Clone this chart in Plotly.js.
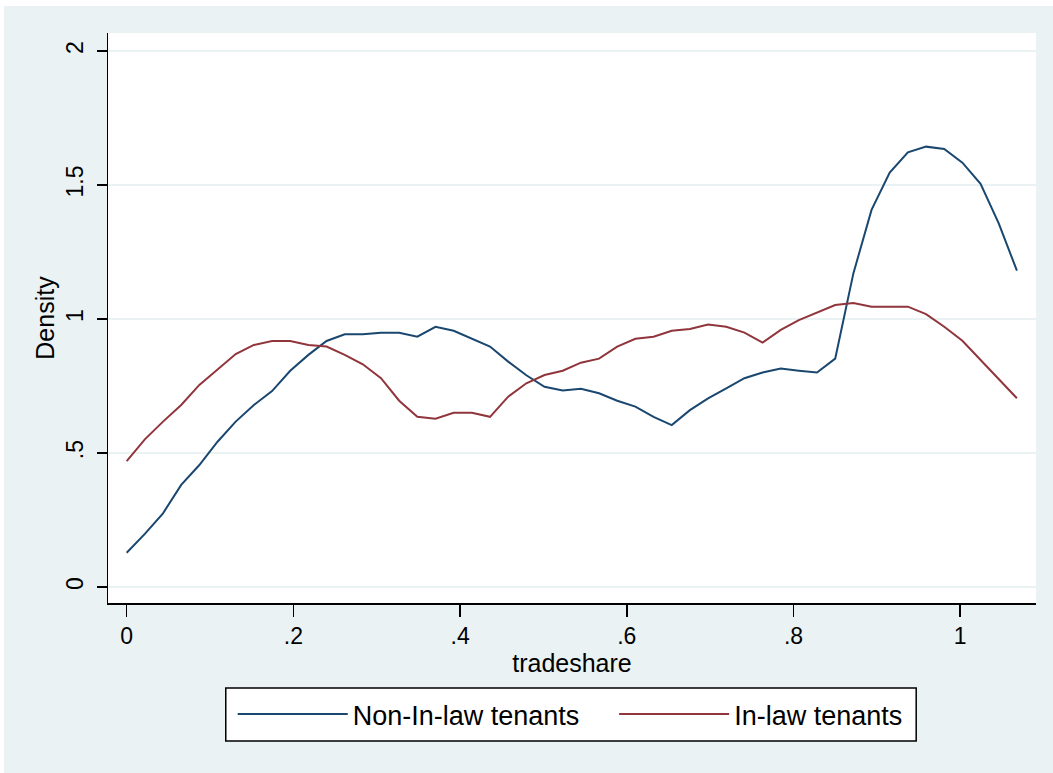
<!DOCTYPE html>
<html>
<head>
<meta charset="utf-8">
<script src="https://cdn.plot.ly/plotly-3.0.1.min.js"></script>
<style>
  html, body { margin: 0; padding: 0; background: #ffffff; }
  #chart { position: absolute; left: 4px; top: 6px; width: 1049px; height: 767px; }
</style>
</head>
<body>
<div id="chart"></div>
<script>
// Evaluation grid for the kernel densities (50 points, 0 .. ~1.068)
const nPoints = 50;
const xMax = 1.068;
const tradeshare = [];
for (let i = 0; i < nPoints; i++) tradeshare.push(+(i * xMax / (nPoints - 1)).toFixed(4));

const seriesNames = ["Non-In-law tenants", "In-law tenants"];

const densityNonInlaw = [
  0.128, 0.198, 0.275, 0.381, 0.455, 0.542, 0.617, 0.679, 0.731, 0.807,
  0.866, 0.918, 0.943, 0.943, 0.949, 0.949, 0.934, 0.971, 0.956, 0.925,
  0.897, 0.841, 0.790, 0.747, 0.733, 0.740, 0.723, 0.695, 0.673, 0.635,
  0.604, 0.660, 0.704, 0.741, 0.779, 0.800, 0.815, 0.807, 0.800, 0.852,
  1.170, 1.407, 1.546, 1.622, 1.643, 1.634, 1.583, 1.504, 1.357, 1.180
];

const densityInlaw = [
  0.470, 0.551, 0.617, 0.679, 0.754, 0.812, 0.869, 0.903, 0.918, 0.918,
  0.903, 0.897, 0.866, 0.831, 0.779, 0.695, 0.635, 0.628, 0.650, 0.650,
  0.635, 0.710, 0.760, 0.791, 0.807, 0.837, 0.852, 0.897, 0.926, 0.934,
  0.956, 0.963, 0.979, 0.971, 0.949, 0.912, 0.959, 0.996, 1.024, 1.052,
  1.060, 1.046, 1.046, 1.046, 1.018, 0.971, 0.919, 0.847, 0.775, 0.704
];

const xTickVals = [0, 0.2, 0.4, 0.6, 0.8, 1];
const xTickText = ["0", ".2", ".4", ".6", ".8", "1"];
const yTickVals = [0, 0.5, 1, 1.5, 2];
const yTickText = ["0", ".5", "1", "1.5", "2"];

const FONT = "'Liberation Sans', Arial, Helvetica, sans-serif";
const BG = "#eaf2f3";

const traces = [
  {
    x: tradeshare, y: densityNonInlaw, name: seriesNames[0],
    type: "scatter", mode: "lines",
    line: { color: "#1a476f", width: 2 },
    legend: "legend"
  },
  {
    x: tradeshare, y: densityInlaw, name: seriesNames[1],
    type: "scatter", mode: "lines",
    line: { color: "#90353b", width: 2 },
    legend: "legend2"
  }
];

const legendCommon = {
  orientation: "h",
  bgcolor: "rgba(0,0,0,0)",
  borderwidth: 0,
  font: { family: FONT, size: 27, color: "#000" },
  itemwidth: 110,
  yanchor: "middle",
  xanchor: "left",
  itemclick: false,
  itemdoubleclick: false
};

const layout = {
  width: 1049,
  height: 767,
  paper_bgcolor: BG,
  plot_bgcolor: "#ffffff",
  margin: { l: 104.3, r: 17.3, t: 27, b: 170, pad: 0 },
  font: { family: FONT, color: "#000" },
  showlegend: true,
  xaxis: {
    range: [-0.0224, 1.0909],
    tickvals: xTickVals,
    ticktext: xTickText,
    ticks: "outside",
    ticklen: 12,
    tickwidth: 1.5,
    tickcolor: "#000",
    showline: true,
    linecolor: "#000",
    linewidth: 1.5,
    showgrid: false,
    zeroline: false,
    tickfont: { family: FONT, size: 23, color: "#000" },
    ticklabelstandoff: 0,
    title: { text: "tradeshare", font: { family: FONT, size: 25, color: "#000" }, standoff: 0 }
  },
  yaxis: {
    range: [-0.0597, 2.067],
    tickvals: yTickVals,
    ticktext: yTickText,
    ticks: "outside",
    ticklen: 10,
    tickwidth: 1.5,
    tickcolor: "#000",
    tickangle: -90,
    showline: true,
    linecolor: "#000",
    linewidth: 1.5,
    showgrid: true,
    gridcolor: BG,
    gridwidth: 2,
    zeroline: false,
    tickfont: { family: FONT, size: 23, color: "#000" },
    ticklabelstandoff: 4,
    title: { text: "Density", font: { family: FONT, size: 25, color: "#000" }, standoff: 0 }
  },
  legend: Object.assign({}, legendCommon, { x: 0.1344, y: -0.1956 }),
  legend2: Object.assign({}, legendCommon, { x: 0.5454, y: -0.1956 }),
  shapes: [
    {
      type: "rect", xref: "paper", yref: "paper", layer: "below",
      x0: 0.1269, x1: 0.8709, y0: -0.2421, y1: -0.1491,
      line: { color: "#000", width: 1.5 },
      fillcolor: "#ffffff"
    }
  ]
};

Plotly.newPlot("chart", traces, layout, { displayModeBar: false, staticPlot: true });
</script>
</body>
</html>
